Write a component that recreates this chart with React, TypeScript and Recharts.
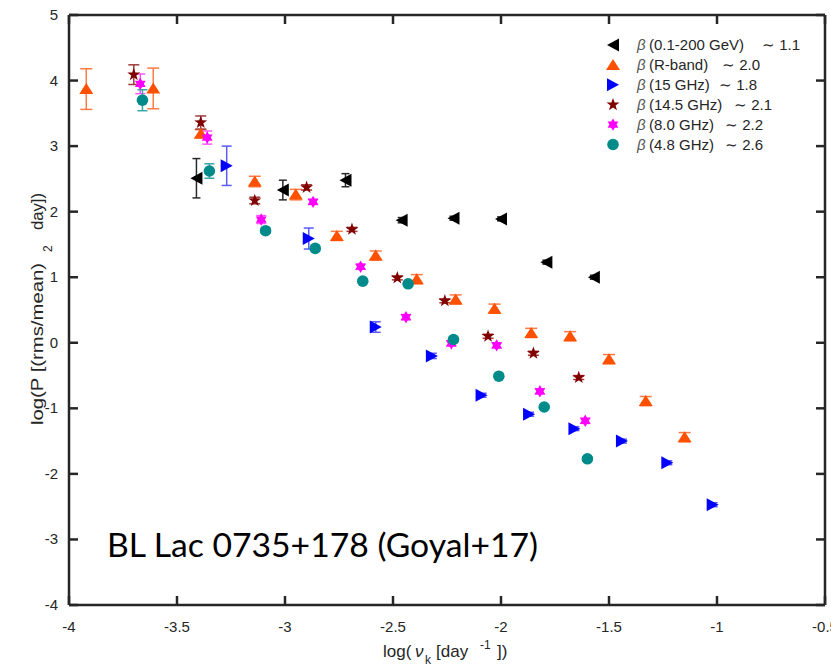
import React from 'react';
import { ScatterChart, Scatter, XAxis, YAxis, ErrorBar, ReferenceLine, Legend } from 'recharts';

// ---------- data ----------
const xTicks = [-4, -3.5, -3, -2.5, -2, -1.5, -1, -0.5];
const yTicks = [-4, -3, -2, -1, 0, 1, 2, 3, 4, 5];

// [log(nu_k), log(P), error]
const gevPoints = [
  [-3.41, 2.51, 0.30],
  [-3.01, 2.33, 0.15],
  [-2.72, 2.48, 0.10],
  [-2.46, 1.87, 0.04],
  [-2.22, 1.90, 0.03],
  [-2.00, 1.89, 0.03],
  [-1.79, 1.23, 0.03],
  [-1.57, 1.00, 0.03],
];
const rBandPoints = [
  [-3.92, 3.87, 0.31],
  [-3.61, 3.88, 0.31],
  [-3.39, 3.19, 0.06],
  [-3.14, 2.46, 0.08],
  [-2.95, 2.26, 0.08],
  [-2.76, 1.63, 0.07],
  [-2.58, 1.33, 0.07],
  [-2.39, 0.97, 0.07],
  [-2.21, 0.66, 0.07],
  [-2.03, 0.52, 0.07],
  [-1.86, 0.15, 0.07],
  [-1.68, 0.10, 0.07],
  [-1.50, -0.25, 0.07],
  [-1.33, -0.89, 0.07],
  [-1.15, -1.44, 0.07],
];
const ghz15Points = [
  [-3.27, 2.70, 0.30],
  [-2.89, 1.59, 0.16],
  [-2.58, 0.24, 0.08],
  [-2.32, -0.20, 0.04],
  [-2.09, -0.80, 0.03],
  [-1.87, -1.09, 0.03],
  [-1.66, -1.31, 0.03],
  [-1.44, -1.50, 0.03],
  [-1.23, -1.83, 0.03],
  [-1.02, -2.47, 0.03],
];
const ghz145Points = [
  [-3.70, 4.09, 0.15],
  [-3.39, 3.36, 0.10],
  [-3.14, 2.17, 0.05],
  [-2.90, 2.37, 0.04],
  [-2.69, 1.73, 0.03],
  [-2.48, 0.99, 0.03],
  [-2.26, 0.64, 0.03],
  [-2.06, 0.10, 0.03],
  [-1.85, -0.16, 0.03],
  [-1.64, -0.53, 0.03],
];
const ghz8Points = [
  [-3.67, 3.95, 0.15],
  [-3.36, 3.13, 0.10],
  [-3.11, 1.88, 0.06],
  [-2.87, 2.15, 0.04],
  [-2.65, 1.16, 0.04],
  [-2.44, 0.39, 0.04],
  [-2.23, -0.01, 0.04],
  [-2.02, -0.04, 0.04],
  [-1.82, -0.74, 0.04],
  [-1.61, -1.19, 0.04],
];
const ghz48Points = [
  [-3.66, 3.70, 0.16],
  [-3.35, 2.62, 0.11],
  [-3.09, 1.71, 0.04],
  [-2.86, 1.44, 0.03],
  [-2.64, 0.94, 0.03],
  [-2.43, 0.90, 0.03],
  [-2.22, 0.05, 0.03],
  [-2.01, -0.51, 0.03],
  [-1.80, -0.98, 0.03],
  [-1.60, -1.77, 0.03],
];

const seriesPoints = [gevPoints, rBandPoints, ghz15Points, ghz145Points, ghz8Points, ghz48Points];
const seriesNames = ['(0.1-200 GeV)', '(R-band)', '(15 GHz)', '(14.5 GHz)', '(8.0 GHz)', '(4.8 GHz)'];
const seriesSlopes = ['\u223C 1.1', '\u223C 2.0', '\u223C 1.8', '\u223C 2.1', '\u223C 2.2', '\u223C 2.6'];

// ---------- styles ----------
const seriesStyles = [
  { kind: 'left', color: '#000000', err: '#2a2a2a', cap: 4 },
  { kind: 'up', color: '#FF5000', err: '#FF7A45', cap: 6 },
  { kind: 'right', color: '#0000FF', err: '#5a5aff', cap: 5 },
  { kind: 'star5', color: '#800000', err: '#a03a3a', cap: 5.5 },
  { kind: 'star6', color: '#FF00FF', err: '#ff55ff', cap: 5 },
  { kind: 'circle', color: '#008B8B', err: '#3aa5a5', cap: 5 },
];
const legendSlopeX = [162, 122, 119, 134, 125, 125]; // relative to legend box

const W = 831;
const H = 666;
const PLOT = { left: 69, right: 825, top: 15, bottom: 605 };
const AXIS_COLOR = '#262626';
const TICK_LEN = 9;
const FONT = '"Liberation Sans", Arial, Helvetica, sans-serif';

function starPoints(cx: number, cy: number, n: number, ro: number, ri: number) {
  const pts: string[] = [];
  for (let i = 0; i < 2 * n; i++) {
    const r = i % 2 === 0 ? ro : ri;
    const a = -Math.PI / 2 + (i * Math.PI) / n;
    pts.push(`${cx + r * Math.cos(a)},${cy + r * Math.sin(a)}`);
  }
  return pts.join(' ');
}

const Marker = ({ kind, cx, cy, fill }: any) => {
  if (cx == null || cy == null) return null;
  switch (kind) {
    case 'left':
      return <polygon points={`${cx - 6},${cy} ${cx + 6},${cy - 6.5} ${cx + 6},${cy + 6.5}`} fill={fill} />;
    case 'right':
      return <polygon points={`${cx + 6},${cy} ${cx - 6},${cy - 6.5} ${cx - 6},${cy + 6.5}`} fill={fill} />;
    case 'up':
      return <polygon points={`${cx},${cy - 6} ${cx - 7},${cy + 5} ${cx + 7},${cy + 5}`} fill={fill} />;
    case 'star5':
      return <polygon points={starPoints(cx, cy, 5, 6.8, 2.7)} fill={fill} />;
    case 'star6':
      return <polygon points={starPoints(cx, cy, 6, 6.2, 3.6)} fill={fill} />;
    default:
      return <circle cx={cx} cy={cy} r={5.8} fill={fill} />;
  }
};

const BottomTick = (props: any) => {
  const { x, y, payload } = props;
  return (
    <g>
      <line x1={x} y1={y} x2={x} y2={y - TICK_LEN} stroke={AXIS_COLOR} strokeWidth={2.5} />
      <line x1={x} y1={PLOT.top} x2={x} y2={PLOT.top + TICK_LEN} stroke={AXIS_COLOR} strokeWidth={2.5} />
      <text x={x} y={y + 27} textAnchor="middle" fontFamily={FONT} fontSize={15} fill={AXIS_COLOR}>
        {String(payload.value)}
      </text>
    </g>
  );
};

const LeftTick = (props: any) => {
  const { x, y, payload } = props;
  return (
    <g>
      <line x1={x} y1={y} x2={x + TICK_LEN} y2={y} stroke={AXIS_COLOR} strokeWidth={2.5} />
      <line x1={PLOT.right} y1={y} x2={PLOT.right - TICK_LEN} y2={y} stroke={AXIS_COLOR} strokeWidth={2.5} />
      <text x={x - 11} y={y + 5} textAnchor="end" fontFamily={FONT} fontSize={15} fill={AXIS_COLOR}>
        {String(payload.value)}
      </text>
    </g>
  );
};

const LegendPanel = () => (
  <svg width={220} height={130} style={{ display: 'block' }}>
    {seriesNames.map((name, i) => {
      const st = seriesStyles[i];
      const cy = 12 + i * 19.9;
      return (
        <g key={name}>
          <Marker kind={st.kind} cx={13} cy={cy} fill={st.color} />
          <text x={37} y={cy + 5} fontFamily={FONT} fontSize={15} fill="#262626">
            <tspan fontStyle="italic" fill="#555">β</tspan>
            <tspan x={49}>{name}</tspan>
            <tspan x={legendSlopeX[i]}>{seriesSlopes[i]}</tspan>
          </text>
        </g>
      );
    })}
  </svg>
);

export default function App() {
  const datasets = seriesPoints.map((pts) => pts.map(([x, y, e]) => ({ x, y, err: e })));
  return (
    <div style={{ position: 'relative', width: W, height: H, overflow: 'hidden', background: '#fff' }}>
      <style>{'body{margin:0;}'}</style>
      <ScatterChart
        width={W}
        height={H}
        margin={{ top: PLOT.top, right: W - PLOT.right, bottom: H - PLOT.bottom - 30, left: PLOT.left - 40 }}
      >
        <XAxis
          type="number"
          dataKey="x"
          domain={[-4, -0.5]}
          ticks={xTicks}
          allowDataOverflow
          height={30}
          tickSize={0}
          tickMargin={0}
          tickLine={false}
          axisLine={{ stroke: AXIS_COLOR, strokeWidth: 2.5 }}
          tick={<BottomTick />}
          interval={0}
        />
        <YAxis
          type="number"
          dataKey="y"
          domain={[-4, 5]}
          ticks={yTicks}
          allowDataOverflow
          width={40}
          tickSize={0}
          tickMargin={0}
          tickLine={false}
          axisLine={{ stroke: AXIS_COLOR, strokeWidth: 2.5 }}
          tick={<LeftTick />}
          interval={0}
        />
        <ReferenceLine y={5} stroke={AXIS_COLOR} strokeWidth={2.5} />
        <ReferenceLine x={-0.5} stroke={AXIS_COLOR} strokeWidth={2.5} />
        {datasets.map((data, i) => {
          const st = seriesStyles[i];
          return (
            <Scatter
              key={seriesNames[i]}
              name={seriesNames[i]}
              data={data}
              fill={st.color}
              isAnimationActive={false}
              shape={(p: any) => <Marker kind={st.kind} cx={p.cx} cy={p.cy} fill={st.color} />}
            >
              <ErrorBar dataKey="err" direction="y" width={st.cap} stroke={st.err} strokeWidth={1.5} />
            </Scatter>
          );
        })}
        <Legend
          layout="vertical"
          align="center"
          verticalAlign="middle"
          content={<LegendPanel />}
          wrapperStyle={{ position: 'absolute', left: 600, top: 33, width: 220, height: 130 }}
        />
      </ScatterChart>
      <svg width={W} height={H} style={{ position: 'absolute', left: 0, top: 0, pointerEvents: 'none' }}>
        <text
          x={107}
          y={557}
          fontFamily="Lato, 'Open Sans', sans-serif"
          fontSize={33}
          textLength={431}
          lengthAdjust="spacingAndGlyphs"
          fill="#000"
        >
          BL Lac 0735+178 (Goyal+17)
        </text>
        {/* y-axis label */}
        <text x={43} y={425} transform="rotate(-90 43 425)" fontFamily={FONT} fontSize={17} fill={AXIS_COLOR}
          textLength={162} lengthAdjust="spacingAndGlyphs">
          log(P [(rms/mean)
        </text>
        <text x={52} y={252} transform="rotate(-90 52 252)" fontFamily={FONT} fontSize={12} fill={AXIS_COLOR}>
          2
        </text>
        <text x={43} y={230} transform="rotate(-90 43 230)" fontFamily={FONT} fontSize={17} fill={AXIS_COLOR}
          textLength={37} lengthAdjust="spacingAndGlyphs">
          day])
        </text>
        {/* x-axis label */}
        <text y={657} fontFamily={FONT} fontSize={17} fill={AXIS_COLOR}>
          <tspan x={383}>log(</tspan>
          <tspan x={415} fontStyle="italic">ν</tspan>
          <tspan x={425} dy={7} fontSize={12}>k</tspan>
          <tspan x={436} dy={-7}>[day</tspan>
          <tspan x={480} dy={-8} fontSize={12}>-1</tspan>
          <tspan x={497} dy={8}>])</tspan>
        </text>
      </svg>
    </div>
  );
}
